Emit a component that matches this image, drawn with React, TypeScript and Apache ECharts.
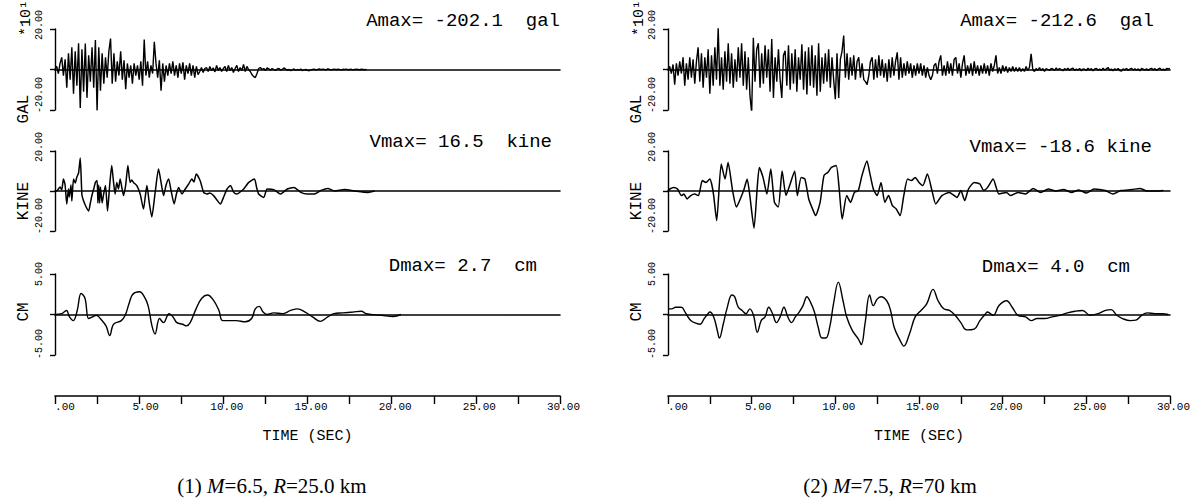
import React, { useEffect, useRef } from "react";
import * as echarts from "echarts";

// ---------- data ----------
const TIME_MAX = 30;
const ACC_DT = 0.1; // sampling step of the acceleration records (s)

// Panel (1): M=6.5, R=25.0 km — acceleration (gal * 10^1), step 0.1 s
const acc1: number[] = [
  0, 1.5, -2, 3, 6, -3, 5, -9, 8, -5,
  11, -12, 9, -8, 13, -19, 10, -11, 12.8, -14,
  7, -6, 11, -9, 14.5, -20.2, 11, -10.5, 8, -7,
  6, -4, 9, 15.3, -7, 8, -6, 4, -3, 9,
  -5, 4.5, -9.7, 3, -4, 2, -7, 3, -3, 2,
  -5, 4, -8, 14.8, -3, 4, -4, 2, -2, 13.7,
  3, -4, 4.5, -10.5, 3, -6, 2, -3, 3, -2,
  4, -3, 2, -4, 3, -2, 3.5, -5, 2, -2,
  3, -3, 2, -4, 1.5, -2.5, -1, 1, -1.5, 0.5,
  1, -1, 1.5, -0.5, 0.8, -1.2, 2, -0.5, 1, -1,
  0.5, 1.5, -1, 2, -0.5, 1, -1.5, 0.5, 2, -1,
  1, -0.5, 2.5, -1, 1.5, 0, -1, -2.5, -3.5, -4,
  -2, 0.5, 1, 0, 0.5, -0.5, 0.8, 0.3, -0.3, 0.5,
  0, -0.5, 0.3, 0.5, -0.3, 0, 0.8, 0.2, -0.4, 0,
  -0.6, -0.2, 0.3, -0.5, 0, -0.3, 0.2, -0.5, -0.3, 0,
  -0.4, -0.6, -0.2, 0, 0.2, -0.2, 0, 0.3, -0.1, 0.2,
  0, -0.2, 0.3, 0.1, -0.2, 0, 0.2, -0.1, 0.1, 0,
  -0.2, 0.1, 0, 0.2, -0.1, 0, 0.1, -0.2, 0, 0.1,
  0, -0.1, 0.1, 0, -0.1, 0,
];

// Panel (1) velocity (kine): [time s, value]
const vel1: [number, number][] = [
  [0, 0], [0.1, 0], [0.2, 1], [0.3, 2], [0.4, 0.5], [0.5, 6], [0.6, 3], [0.7, -6.5], [0.8, 1], [0.85, -3],
  [0.95, 3], [1.0, -5], [1.1, 6], [1.2, 4], [1.3, 7], [1.4, 9], [1.5, 16.5], [1.6, -2], [1.7, -5], [1.85, -8],
  [2.0, -10], [2.1, -6], [2.2, -2], [2.3, 1], [2.4, 4.3], [2.5, 5.2], [2.55, -6], [2.6, 3], [2.65, -6], [2.7, 2],
  [2.8, -6], [2.9, -1], [3.0, 2.7], [3.12, -10], [3.25, 3], [3.37, 12.7], [3.47, 5], [3.57, -1.5], [3.67, 4.3], [3.77, 1],
  [3.87, 6], [4.07, -2.3], [4.2, 3], [4.33, 12.7], [4.46, 4.3], [4.56, 5.5], [4.66, 4.3], [4.86, 2.7], [5.06, -1.5], [5.26, -9],
  [5.36, -3], [5.46, 2.7], [5.6, -6], [5.75, -13], [5.95, -0.7], [6.15, 11], [6.35, 1.8], [6.45, -2.3], [6.6, 3], [6.75, 6],
  [6.9, 0], [7.08, -6.5], [7.2, -2], [7.34, 1.8], [7.54, -1.5], [7.74, 1], [7.94, 3.5], [8.13, 6], [8.25, 4.5], [8.39, 8.5],
  [8.63, 5], [8.83, -0.7], [9.03, -1.5], [9.2, -1], [9.42, -2.3], [9.62, -4.5], [9.82, -6.5], [10.02, -3], [10.22, 1], [10.42, 2.7],
  [10.62, -0.7], [10.81, -1.5], [11.0, -0.5], [11.21, 1], [11.51, 4.3], [11.85, 6], [11.97, 2], [12.1, -1.5], [12.4, -3.2], [12.6, 1],
  [13.0, 0.7], [13.4, -1.5], [13.8, 1], [14.2, 1.8], [14.6, -0.7], [15.0, -1.5], [15.4, -1.5], [15.8, 0.3], [16.2, 1.3], [16.6, 0],
  [17.2, 0.7], [17.8, 0], [18.6, -0.7], [19.0, 0],
];

// Panel (1) displacement (cm): [time s, value]
const disp1: [number, number][] = [
  [0, 0], [0.4, 0.1], [0.68, 0.5], [0.86, -0.3], [1.09, -0.75], [1.32, 0.5], [1.55, 2.6], [1.78, 2.0], [2.0, -0.5], [2.23, -0.3],
  [2.46, -0.1], [2.69, -0.5], [3.03, -1.4], [3.25, -2.6], [3.48, -1.2], [3.94, -0.75], [4.17, -0.1], [4.39, 1.3], [4.62, 2.5], [5.03, 2.8],
  [5.3, 2.2], [5.53, 1.1], [5.76, -1.4], [5.94, -2.4], [6.21, -0.5], [6.44, -1.0], [6.78, 0.1], [7.01, -0.3], [7.24, -1.0], [7.58, -1.2],
  [7.81, -1.4], [8.03, -1.0], [8.38, 0.7], [8.72, 2.0], [9.06, 2.4], [9.4, 1.8], [9.74, 0.5], [9.97, -0.75], [10.77, -0.75], [11.3, -0.9],
  [11.68, -0.5], [11.9, 0.7], [12.13, 1.0], [12.36, 0.3], [12.59, 0], [13.0, 0.2], [13.5, 0.1], [14.0, 0.5], [14.4, 0.7], [14.86, 0.3],
  [15.3, -0.3], [15.77, -0.85], [16.2, -0.3], [16.57, 0.1], [17.1, 0.2], [17.7, 0.3], [18.2, 0.4], [18.5, 0.1], [19.4, -0.1], [20.1, -0.25],
  [20.55, 0],
];

// Panel (2): M=7.5, R=70 km — acceleration (gal * 10^1), step 0.1 s
const acc2: number[] = [
  0, 1.5, -2, 2.5, -7.5, 3, -3, 4, -2, 6,
  -8, 3, -5, 6, -4, 5, -7, 4, 11, -6,
  8, -9, 6, -4, 10, -12, 7, -8, 11, -5,
  20.5, -8, 6, -10, 9, -6, 13, -7, 8, -9,
  5, -6, 11, -4, 13, -8, 9, -10, 6, -13,
  -21.3, 15.7, -6, 10, 13, -9, 8, -7, 12, -4,
  10, -11, 15, -14, 6, -6, 10, -5, -14, 7,
  9.3, -8, 12, -10, 8, -7, 10, -11, 6, -5,
  12.5, -10, 9, -12.3, 11, -8, 12, -9, 7, -13,
  13, -11, 6, -7, 8, -6, 10, -9, 6, -5,
  -14.7, 8, -14, 5, 9, 16.8, -4, 8, -5, 6,
  -3, 7, -5, 4, 6, -4, 3, -5, -6, -7.5,
  -3, 4, 6, -5, 5, -4, 7, -3, 5, -4,
  3, -6, 5, -4, 6, -3, 4, 8.5, -5, 6,
  -4, 3, -3, 4, -2, 3, -4, 2, -3, 3,
  -2, 3, -3, 2, -4, 1, -3, -5, -3, 2,
  3, -2, 4, 7, -3, 2, -3, 4, -2, 3,
  -3, 5, 6, -2, 3, -4, 3, 7, -3, 2,
  -2, 3, -3, 4, -2, 2, -3, 2, -2, 3,
  -2, 2, -3, 3, -1, 2, 7, -2, 1, -2,
  2, -1, 1.5, -1.5, 1, -1, 1.5, -1, 1, -1,
  1, -1, 0.5, -1, 1.5, -0.5, 1, 7.7, 0, -1,
  0.5, -0.5, 1, -0.5, 0.5, -1, 0.5, 0, -0.5, 0.5,
  0.3, -0.5, 0.8, -0.3, 0.5, 0, -0.6, 0.4, -0.2, 0.6,
  -0.4, 0.3, 0.7, -0.5, 0.2, -0.3, 0.5, -0.6, 0.3, 0.1,
  -0.5, 0.6, -0.2, 0.4, -0.7, 0.3, 0.5, -0.3, 0.2, -0.4,
  0.6, -0.2, 0.3, 1.0, -0.4, 0.2, -0.6, 0.4, -0.3, 0.5,
  -0.5, -0.8, 0.3, -0.2, 0.5, -0.4, 0.2, 0.6, -0.3, 0.4,
  -0.4, 0.3, -0.6, 0.5, 0.2, -0.3, 0.4, -0.5, 0.3, 0.6,
  -0.2, 0.4, -0.5, 0.3, 0.7, -0.3, 0.2, -0.4, 0.5, 0.3,
  0.5,
];

// Panel (2) velocity (kine): [time s, value]
const vel2: [number, number][] = [
  [0, 0], [0.11, 1], [0.34, 1.8], [0.57, 1], [0.8, -2.3], [0.95, -1.5], [1.14, -4], [1.36, -2.3], [1.59, -1.5], [1.82, -2.3],
  [2.05, 5.2], [2.27, 4.3], [2.5, 6], [2.61, 3.5], [2.73, -2.3], [2.91, -14.8], [3.18, 13.5], [3.41, 6], [3.59, 14.3], [3.86, 0.2],
  [4.09, -8], [4.32, -4], [4.55, 1], [4.73, 6], [4.89, -2.3], [5.14, -18.6], [5.34, 2.7], [5.46, 11.8], [5.68, 6.8], [5.91, -1.5],
  [6.14, 11], [6.36, -5.7], [6.59, -8], [6.82, 10], [7.05, -2.3], [7.27, 2.7], [7.57, 10], [7.73, -2.3], [7.96, 6.8], [8.18, 6],
  [8.41, -4], [8.64, -9], [8.82, -12.3], [9.09, -5.7], [9.32, 7.7], [9.55, 9.3], [9.77, 11.8], [10.05, 12.7], [10.23, 1], [10.41, -14],
  [10.68, -2.3], [10.91, -5.7], [11.14, -0.7], [11.37, 0.2], [11.59, 7.7], [11.89, 15], [12.05, 9.3], [12.27, 1], [12.5, -2.3], [12.73, 4.3],
  [12.96, -5.7], [13.18, -2.3], [13.41, -7.3], [13.64, -9], [13.87, -12.3], [14.09, -2.3], [14.32, 6], [14.55, 5.2], [14.77, 6.8], [15.0, 4.3],
  [15.23, 2.7], [15.5, 8.5], [15.8, -0.7], [16.0, -6.5], [16.37, -2.3], [16.82, -0.7], [17.27, -3.2], [17.5, 0.2], [17.73, -4.8], [17.96, 1],
  [18.3, 4.3], [18.64, 3.5], [18.87, 0.2], [19.1, 1.8], [19.43, 6], [19.78, -1.5], [20.23, -0.7], [20.46, -2.3], [20.91, -0.7], [21.37, -1.5],
  [21.82, 1.3], [22.27, -0.7], [22.73, 1], [23.18, 0], [23.64, 0.7], [24.1, -0.7], [24.55, 0.5], [25.0, -1], [25.46, 1], [26.14, 0.2],
  [26.6, -1.5], [27.05, 0.2], [27.73, 0.7], [28.2, 1.3], [28.64, 0], [29.1, 0], [29.6, 0.3],
];

// Panel (2) displacement (cm): [time s, value]
const disp2: [number, number][] = [
  [0, 0.7], [0.23, 0.7], [0.45, 0.9], [0.8, 0.9], [1.02, 0.3], [1.36, -0.75], [1.7, -1.1], [1.93, -1.2], [2.16, -0.5], [2.39, 0.1],
  [2.5, 0.3], [2.73, -0.3], [2.95, -2.0], [3.07, -2.9], [3.3, -1.2], [3.52, 0.7], [3.82, 2.4], [3.98, 2.2], [4.2, 0.9], [4.43, 0.5],
  [4.66, 0.1], [4.89, 0.7], [5.11, -0.1], [5.34, -2.2], [5.57, -0.75], [5.8, -0.3], [6.02, 0.9], [6.25, 0.1], [6.48, -1], [6.7, -0.3],
  [6.93, 0.9], [7.16, -0.3], [7.39, -1], [7.61, -0.3], [7.84, 0.3], [8.07, 1.1], [8.3, 2.2], [8.52, 1.5], [8.75, 0.3], [8.98, -1.6],
  [9.2, -2.9], [9.43, -2.9], [9.66, -1.6], [9.89, 1.3], [10.18, 4.0], [10.46, 1.7], [10.68, -0.3], [11.02, -2.0], [11.37, -3.0], [11.55, -3.7],
  [11.77, -1.2], [12.05, 2.4], [12.27, 1.1], [12.5, 1.9], [12.73, 2.2], [13.07, 1.7], [13.3, 0.5], [13.52, -1.6], [13.87, -3.2], [14.09, -3.9],
  [14.43, -2.4], [14.77, -0.3], [15.12, 0.5], [15.46, 1.3], [15.84, 3.1], [16.14, 1.7], [16.48, 0.7], [16.82, 0.5], [17.16, -0.1], [17.5, -1.0],
  [17.84, -1.9], [18.3, -1.8], [18.64, -0.75], [18.98, 0.1], [19.09, 0.3], [19.43, -0.1], [19.78, 1.1], [20.23, 1.7], [20.57, 0.9], [20.91, -0.1],
  [21.37, -0.3], [21.71, -0.75], [22.05, -0.5], [22.5, -0.5], [22.96, -0.3], [23.41, -0.1], [23.87, 0.2], [24.32, 0.4], [24.77, 0.5], [25.23, -0.1],
  [25.69, 0.1], [26.14, 0.5], [26.48, 0.6], [26.82, -0.1], [27.16, -0.5], [27.62, -0.75], [27.96, -0.7], [28.3, -0.1], [28.64, 0.2], [29.1, 0.1],
  [29.55, 0.1], [29.9, 0],
];

// axis ranges (acc, vel, disp)
const axisMax = [20, 20, 5];
const axisNames = ["GAL", "KINE", "CM"];
const accScaleLabel = "*10\u00B9";
const peakLabels1 = ["Amax= -202.1  gal", "Vmax= 16.5  kine", "Dmax= 2.7  cm"];
const peakLabels2 = ["Amax= -212.6  gal", "Vmax= -18.6 kine", "Dmax= 4.0  cm"];
const captions = [
  ["(1) ", "M", "=6.5, ", "R", "=25.0 km"],
  ["(2) ", "M", "=7.5, ", "R", "=70 km"],
];
const timeAxisTitle = "TIME (SEC)";

// ---------- layout ----------
const MONO = "'Liberation Mono', 'DejaVu Sans Mono', monospace";
const SERIF = "'Liberation Serif', 'DejaVu Serif', serif";
const panelLeft = [55, 668];
const panelWidth = [505, 502];
const rowTop = [29, 151, 274];
const rowHeight = [81, 80, 81];
const timeAxisY = 396;

function fmt2(v: number) {
  return v.toFixed(2);
}

function buildOption() {
  const grid: any[] = [];
  const xAxis: any[] = [];
  const yAxis: any[] = [];
  const series: any[] = [];
  const graphic: any[] = [];

  const accSets = [acc1, acc2];
  const velSets = [vel1, vel2];
  const dispSets = [disp1, disp2];
  const peakSets = [peakLabels1, peakLabels2];
  const peakRight = [[560, 552, 537], [1154, 1152, 1130]];
  const peakY = [[21, 142, 266], [21, 147, 267]];

  for (let p = 0; p < 2; p++) {
    const accPairs = accSets[p].map((v, i) => [+(i * ACC_DT).toFixed(2), v]);
    const traces: any[] = [accPairs, velSets[p], dispSets[p]];
    for (let r = 0; r < 3; r++) {
      const gi = p * 4 + r;
      grid.push({ left: panelLeft[p], width: panelWidth[p], top: rowTop[r], height: rowHeight[r], containLabel: false });
      xAxis.push({
        gridIndex: gi, type: "value", min: 0, max: TIME_MAX,
        axisLine: { show: true, onZero: true, lineStyle: { color: "#000", width: 1.6 } },
        axisTick: { show: false }, axisLabel: { show: false }, splitLine: { show: false },
      });
      const m = axisMax[r];
      const negPad = r === 2 ? 22 : 30;
      const posPad = r === 2 ? 0 : 8;
      yAxis.push({
        gridIndex: gi, type: "value", min: -m, max: m, interval: m,
        axisLine: { show: true, lineStyle: { color: "#000", width: 1.4 } },
        axisTick: { show: true, length: 5, lineStyle: { color: "#000", width: 1.4 } },
        splitLine: { show: false },
        axisLabel: {
          rotate: 90, margin: 11, showMinLabel: true, showMaxLabel: true,
          formatter: (v: number) => (v > 0 ? `{p|${fmt2(v)}}` : v < 0 ? `{n|${fmt2(v)}}` : ""),
          rich: {
            p: { fontFamily: MONO, fontSize: 10, color: "#000", padding: [0, 0, 0, posPad] },
            n: { fontFamily: MONO, fontSize: 10, color: "#000", padding: [0, 0, 0, negPad] },
          },
        },
      });
      series.push({
        type: "line", xAxisIndex: gi, yAxisIndex: gi, data: traces[r],
        showSymbol: false, symbol: "none", silent: true,
        smooth: r === 0 ? false : r === 1 ? 0.2 : 0.4,
        lineStyle: { color: "#000", width: r === 0 ? 1.4 : r === 1 ? 1.5 : 1.4 },
      });
      // peak value annotation
      graphic.push({
        type: "text", x: peakRight[p][r], y: peakY[p][r],
        style: { text: peakSets[p][r], fontFamily: MONO, fontSize: 19, fill: "#000", align: "right", verticalAlign: "middle" },
      });
      // axis name (rotated)
      const nameY = r === 0 ? 109 : r === 1 ? 201 : 312;
      graphic.push({
        type: "text", x: panelLeft[p] - 31, y: nameY, rotation: Math.PI / 2,
        style: { text: axisNames[r], fontFamily: MONO, fontSize: 16, fill: "#000", align: "center", verticalAlign: "middle" },
      });
    }
    graphic.push({
      type: "text", x: panelLeft[p] - 29, y: 18, rotation: Math.PI / 2,
      style: { text: accScaleLabel, fontFamily: MONO, fontSize: 15, fill: "#000", align: "center", verticalAlign: "middle" },
    });

    // time axis
    const gi = p * 4 + 3;
    grid.push({ left: panelLeft[p], width: panelWidth[p], top: timeAxisY - 1, height: 1, containLabel: false });
    xAxis.push({
      gridIndex: gi, type: "value", min: 0, max: TIME_MAX, interval: 2.5, position: "bottom",
      name: timeAxisTitle, nameLocation: "middle", nameGap: 33,
      nameTextStyle: { fontFamily: MONO, fontSize: 15, color: "#000" },
      axisLine: { show: true, onZero: false, lineStyle: { color: "#000", width: 1.6 } },
      axisTick: { show: true, length: 8, lineStyle: { color: "#000", width: 1.4 } },
      splitLine: { show: false },
      axisLabel: {
        margin: 5, showMinLabel: true, showMaxLabel: true, hideOverlap: false,
        formatter: (v: number) => {
          if (Math.abs(v % 5) > 1e-6) return "";
          const s = v === 0 ? ".00" : v.toFixed(2);
          return `{r${s.length}|${s}}`;
        },
        rich: {
          r3: { fontFamily: MONO, fontSize: 11, color: "#000", padding: [0, 0, 0, 20] },
          r4: { fontFamily: MONO, fontSize: 11, color: "#000", padding: [0, 0, 0, 13] },
          r5: { fontFamily: MONO, fontSize: 11, color: "#000", padding: [0, 0, 0, 7] },
        },
      },
    });
    yAxis.push({ gridIndex: gi, type: "value", min: 0, max: 1, show: false });

    // caption
    const c = captions[p];
    graphic.push({
      type: "text", x: p === 0 ? 272 : 890, y: 486,
      style: {
        text: `{a|${c[0]}}{i|${c[1]}}{a|${c[2]}}{i|${c[3]}}{a|${c[4]}}`,
        align: "center", verticalAlign: "middle",
        rich: {
          a: { fontFamily: SERIF, fontSize: 21, fill: "#000" },
          i: { fontFamily: SERIF, fontSize: 21, fontStyle: "italic", fill: "#000" },
        },
      },
    });
  }

  return {
    animation: false,
    backgroundColor: "#fff",
    grid, xAxis, yAxis, series, graphic,
  };
}

export default function App() {
  const ref = useRef<HTMLDivElement>(null);
  useEffect(() => {
    document.body.style.margin = "0";
    if (!ref.current) return;
    const chart = echarts.init(ref.current, undefined, { renderer: "svg" });
    chart.setOption(buildOption() as any);
    return () => chart.dispose();
  }, []);
  return <div ref={ref} style={{ width: 1195, height: 501 }} />;
}
